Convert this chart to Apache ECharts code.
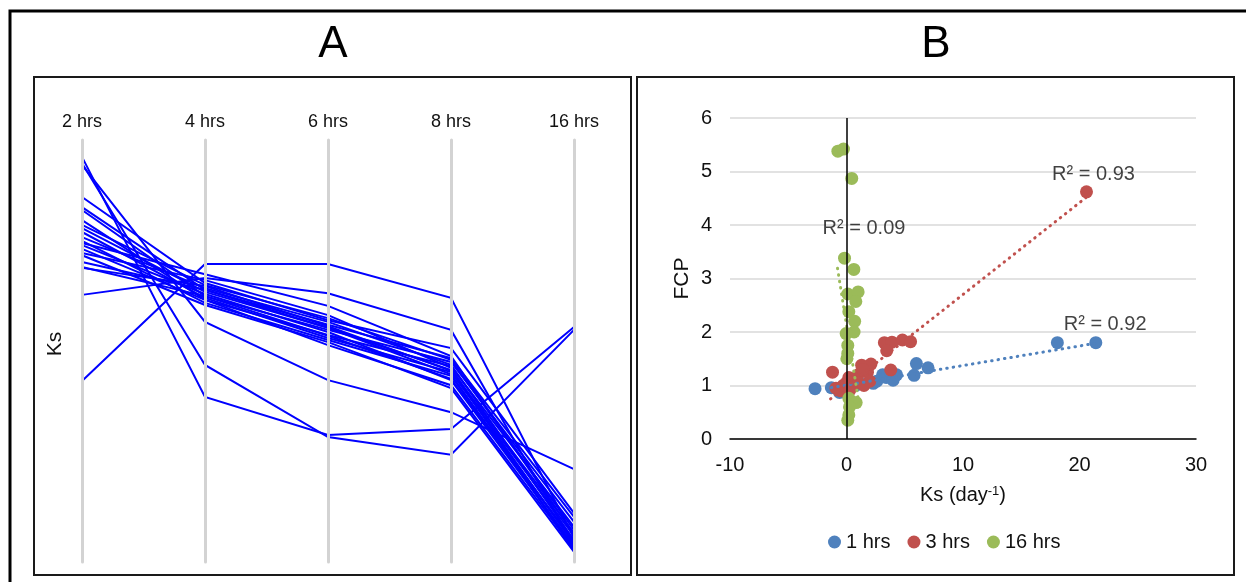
<!DOCTYPE html>
<html><head><meta charset="utf-8">
<script src="https://cdn.jsdelivr.net/npm/echarts@6/dist/echarts.min.js"></script>
<style>html,body{margin:0;padding:0;background:#fff}#c{width:1246px;height:582px}</style>
</head><body><div id="c"></div>
<script>
// ---- Panel A: parallel coordinates (relative Ks, 0-100 scale) ----
const timeLabels = ['2 hrs', '4 hrs', '6 hrs', '8 hrs', '16 hrs'];
const ks2h  = [96.0, 94.5, 94.1, 42.9, 63.3, 86.5, 84.1, 83.4, 81.0, 79.9, 79.1, 78.2, 77.0, 76.1, 75.1, 74.2, 73.2, 72.7, 71.1, 69.7, 69.9, 75.6];
const ks4h  = [39.1, 46.7, 56.9, 70.6, 67.3, 66.1, 64.5, 63.0, 62.1, 65.6, 64.0, 62.6, 64.9, 61.4, 63.5, 62.1, 66.8, 60.9, 64.5, 65.4, 63.0, 68.2];
const ks6h  = [30.1, 29.6, 43.1, 70.6, 63.7, 57.3, 56.2, 55.0, 53.8, 57.8, 55.5, 53.1, 56.9, 52.6, 54.5, 51.4, 58.5, 52.1, 55.5, 55.9, 53.6, 60.7];
const ks8h  = [31.5, 25.4, 35.5, 62.6, 55.0, 50.7, 48.3, 47.4, 46.4, 47.9, 45.5, 45.0, 46.7, 44.1, 43.1, 41.9, 46.0, 41.2, 44.5, 45.3, 43.4, 48.8];
const ks16h = [55.7, 55.0, 22.0, 5.7, 4.0, 11.6, 10.7, 9.5, 8.3, 7.6, 6.9, 6.2, 5.2, 4.5, 3.8, 3.1, 2.6, 2.4, 3.3, 4.3, 5.0, 6.6];

// ---- Panel B: FCP vs Ks scatter ----
const seriesNames = ['1 hrs', '3 hrs', '16 hrs'];
const pts1h = [[-2.7,0.94],[-1.3,0.96],[-0.6,0.87],[0.2,0.95],[0.8,1.0],[1.5,1.02],[2.3,1.04],[2.6,1.08],[3.1,1.2],[3.4,1.15],[3.8,1.25],[4.0,1.1],[4.3,1.2],[5.8,1.19],[6.0,1.41],[7.0,1.33],[18.1,1.8],[21.4,1.8]];
const pts3h = [[-1.2,1.25],[-0.9,0.95],[-0.5,0.9],[-0.3,1.0],[0.0,1.05],[0.2,1.15],[0.3,0.92],[0.5,1.0],[0.8,1.1],[1.0,1.2],[1.3,1.38],[1.0,1.05],[1.5,1.0],[1.8,1.25],[2.1,1.4],[2.0,1.08],[1.4,1.3],[3.8,1.29],[3.25,1.8],[3.5,1.75],[3.9,1.81],[3.45,1.65],[4.8,1.85],[5.5,1.82],[20.6,4.62]];
const pts16h = [[-0.74,5.38],[-0.26,5.42],[0.45,4.87],[-0.17,3.38],[0.63,3.17],[0.11,2.71],[1.0,2.75],[0.8,2.57],[0.2,2.38],[0.7,2.2],[0.65,2.0],[-0.03,1.97],[0.11,1.75],[0.11,1.6],[0.03,1.5],[0.2,0.76],[0.83,0.68],[0.26,0.6],[0.2,0.45],[0.11,0.35]];
const trend1h = [[-1.3,0.96],[21.4,1.79]];
const trend3h = [[-1.37,0.75],[20.6,4.52]];
const trend16h = [[-0.77,3.19],[1.1,0.62]];
const r2Labels = [{ text: 'R² = 0.92', pos: [22.2, 2.14] }, { text: 'R² = 0.93', pos: [21.2, 4.94] }, { text: 'R² = 0.09', pos: [1.5, 3.93] }];
const xTicks = { min: -10, max: 30, interval: 10 };
const yTicks = { min: 0, max: 6, interval: 1 };

const colors = ['#4F81BD', '#C0504D', '#9BBB59'];
const FONT = 'Liberation Sans, Arial, sans-serif';
const TXT = '#111';

const chart = echarts.init(document.getElementById('c'), null, { renderer: 'canvas' });
const parallelData = ks2h.map((v, i) => [v, ks4h[i], ks6h[i], ks8h[i], ks16h[i]]);
const ptsAll = [pts1h, pts3h, pts16h];
const trends = [trend1h, trend3h, trend16h];

const series = [{
  type: 'parallel',
  parallelIndex: 0,
  data: parallelData,
  silent: true,
  lineStyle: { color: '#0000ff', width: 2, opacity: 1 },
  z: 3
}];
ptsAll.forEach((p, i) => series.push({
  name: seriesNames[i], type: 'scatter', xAxisIndex: 0, yAxisIndex: 0,
  data: p, symbol: 'circle', symbolSize: 13, itemStyle: { color: colors[i], opacity: 1 }, z: 3
}));
trends.forEach((t, i) => series.push({
  name: 'trend ' + seriesNames[i], type: 'line', data: t, showSymbol: false, silent: true,
  lineStyle: { color: colors[i], width: 3, type: [0.5, 6], cap: 'round' }, z: 4
}));
series.push({
  name: 'zero', type: 'line', data: [], silent: true,
  markLine: { silent: true, symbol: 'none', label: { show: false },
    lineStyle: { color: '#000', width: 1.5, type: 'solid' }, data: [{ xAxis: 0 }] }, z: 2
});
series.push({
  name: 'r2', type: 'scatter', silent: true, symbolSize: 0,
  data: r2Labels.map(r => ({ value: r.pos, name: r.text })),
  label: { show: true, position: 'inside', formatter: '{b}', fontSize: 20, color: TXT, fontFamily: FONT }, z: 5
});

const pAxisStyle = {
  min: 0, max: 100, nameLocation: 'end', nameGap: 9,
  nameTextStyle: { fontSize: 18, color: TXT, fontFamily: FONT },
  axisLine: { lineStyle: { color: '#d3d3d3', width: 3 } },
  axisTick: { show: false },
  axisLabel: { show: false, formatter: () => '' },
  splitLine: { show: false }
};

chart.setOption({
  animation: false,
  backgroundColor: '#fff',
  textStyle: { fontFamily: FONT },
  parallel: { left: 82, right: 672, top: 140, bottom: 20, parallelAxisDefault: pAxisStyle },
  parallelAxis: timeLabels.map((n, i) => Object.assign({}, pAxisStyle, { dim: i, name: n })),
  grid: { left: 730, right: 50, top: 118, bottom: 143 },
  xAxis: {
    type: 'value', min: xTicks.min, max: xTicks.max, interval: xTicks.interval,
    axisLine: { onZero: false, lineStyle: { color: '#000', width: 1.5 } },
    axisTick: { show: false }, splitLine: { show: false },
    axisLabel: { fontSize: 20, color: TXT, margin: 16, fontFamily: FONT },
    name: 'Ks (day{sup|-1})', nameLocation: 'middle', nameGap: 46,
    nameTextStyle: { fontSize: 20, color: TXT, fontFamily: FONT,
      rich: { sup: { fontSize: 13, color: TXT, fontFamily: FONT, verticalAlign: 'top', lineHeight: 14 } } }
  },
  yAxis: {
    type: 'value', min: yTicks.min, max: yTicks.max, interval: yTicks.interval,
    axisLine: { show: false }, axisTick: { show: false },
    splitLine: { lineStyle: { color: '#d9d9d9', width: 1.5 } },
    axisLabel: { fontSize: 20, color: TXT, margin: 18, fontFamily: FONT },
    name: 'FCP', nameLocation: 'middle', nameGap: 37,
    nameTextStyle: { fontSize: 21, color: TXT, fontFamily: FONT }
  },
  legend: {
    data: seriesNames, left: 823, top: 527, icon: 'circle', itemWidth: 13, itemHeight: 13,
    itemGap: 17, textStyle: { fontSize: 20, color: TXT, fontFamily: FONT }
  },
  graphic: [
    { type: 'rect', shape: { x: 10, y: 11, width: 1300, height: 700 }, style: { fill: 'none', stroke: '#000', lineWidth: 3 }, silent: true },
    { type: 'rect', shape: { x: 34, y: 77, width: 597, height: 498 }, style: { fill: 'none', stroke: '#1a1a1a', lineWidth: 2 }, silent: true },
    { type: 'rect', shape: { x: 637, y: 77, width: 597, height: 498 }, style: { fill: 'none', stroke: '#1a1a1a', lineWidth: 2 }, silent: true },
    { type: 'text', x: 333, y: 45, style: { text: 'A', font: '44px ' + FONT, fill: '#000', textAlign: 'center', textVerticalAlign: 'middle' }, silent: true },
    { type: 'text', x: 936, y: 45, style: { text: 'B', font: '44px ' + FONT, fill: '#000', textAlign: 'center', textVerticalAlign: 'middle' }, silent: true },
    { type: 'text', x: 55, y: 344, rotation: Math.PI / 2, style: { text: 'Ks', font: '21px ' + FONT, fill: TXT, textAlign: 'center', textVerticalAlign: 'middle' }, silent: true }
  ],
  series: series
});
</script></body></html>
